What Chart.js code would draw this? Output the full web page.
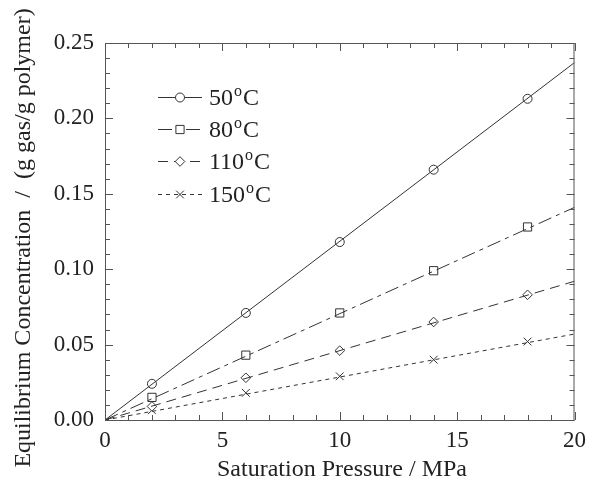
<!DOCTYPE html>
<html>
<head>
<meta charset="utf-8">
<script src="https://cdn.jsdelivr.net/npm/chart.js@4/dist/chart.umd.min.js"></script>
<style>
  html, body { margin: 0; padding: 0; background: #fff; }
  #wrap { width: 593px; height: 482px; }
</style>
</head>
<body>
<div id="wrap"><canvas id="chart" width="593" height="482"></canvas></div>
<script>
// ================================
// DATA
// ================================
const pressures = [2, 6, 10, 14, 18];
const conc50 = [0.024, 0.071, 0.118, 0.166, 0.213];
const conc80 = [0.015, 0.043, 0.071, 0.099, 0.128];
const conc110 = [0.009, 0.028, 0.046, 0.065, 0.083];
const conc150 = [0.0065, 0.018, 0.029, 0.040, 0.052];

// fitted lines, end points only
const fitPressures = [0, 20];
const fit50 = [0, 0.237];
const fit80 = [0, 0.141];
const fit110 = [0, 0.092];
const fit150 = [0, 0.057];

const seriesLabels = ['50', '80', '110', '150'];
const xTicks = [0, 5, 10, 15, 20];
const yTicks = [0, 0.05, 0.10, 0.15, 0.20, 0.25];

// ================================
// STYLE
// ================================
const INK = '#333';
const FONT = "'Liberation Serif', 'DejaVu Serif', serif";

const styles = [
  { dash: [], point: 'circle', radius: 4.5 },
  { dash: [14, 5, 4, 5], point: 'rect', radius: 5.8 },
  { dash: [10, 6], point: 'rectRot', radius: 4.8 },
  { dash: [4, 4], point: 'crossRot', radius: 5.5 }
];

const toXY = (xs, ys) => xs.map((x, i) => ({ x, y: ys[i] }));

const fits = [fit50, fit80, fit110, fit150];
const points = [conc50, conc80, conc110, conc150];

const datasets = [];
fits.forEach((f, i) => {
  datasets.push({
    data: toXY(fitPressures, f),
    showLine: true,
    borderColor: INK,
    borderWidth: 1,
    borderDash: styles[i].dash,
    pointRadius: 0
  });
});
points.forEach((p, i) => {
  datasets.push({
    data: toXY(pressures, p),
    showLine: false,
    pointStyle: styles[i].point,
    pointRadius: styles[i].radius,
    pointBorderWidth: 1,
    pointBorderColor: INK,
    pointBackgroundColor: '#fff'
  });
});

// ================================
// PLUGINS
// ================================
function drawMarker(ctx, style, r, x, y) {
  ctx.beginPath();
  const s = Math.SQRT1_2 * r;
  if (style === 'circle') {
    ctx.arc(x, y, r, 0, Math.PI * 2);
  } else if (style === 'rect') {
    ctx.rect(x - s, y - s, 2 * s, 2 * s);
  } else if (style === 'rectRot') {
    ctx.moveTo(x, y - r); ctx.lineTo(x + r, y); ctx.lineTo(x, y + r); ctx.lineTo(x - r, y); ctx.closePath();
  } else {
    ctx.moveTo(x - s, y - s); ctx.lineTo(x + s, y + s);
    ctx.moveTo(x + s, y - s); ctx.lineTo(x - s, y + s);
  }
  ctx.fillStyle = '#fff';
  if (style !== 'crossRot') ctx.fill();
  ctx.stroke();
}

const framePlugin = {
  id: 'frame',
  afterDraw(chart) {
    const { ctx, chartArea: a, scales: { x, y } } = chart;
    ctx.save();
    ctx.strokeStyle = '#555';
    ctx.lineWidth = 1;
    ctx.strokeRect(a.left + 0.5, a.top + 0.5, a.right - a.left - 1, a.bottom - a.top);

    // inward ticks on all sides
    ctx.beginPath();
    for (let v = 0; v <= 20; v++) {
      const px = Math.round(x.getPixelForValue(v)) + 0.5;
      const len = v % 5 === 0 ? 8 : 5;
      ctx.moveTo(px, a.bottom); ctx.lineTo(px, a.bottom - len);
      ctx.moveTo(px, a.top); ctx.lineTo(px, a.top + len);
    }
    for (let k = 0; k <= 25; k++) {
      const py = Math.round(y.getPixelForValue(k / 100)) + 0.5;
      const len = k % 5 === 0 ? 8 : 5;
      ctx.moveTo(a.left, py); ctx.lineTo(a.left + len, py);
      ctx.moveTo(a.right, py); ctx.lineTo(a.right - len, py);
    }
    ctx.stroke();

    // axis titles
    ctx.fillStyle = '#222';
    ctx.font = `24px ${FONT}`;
    ctx.textAlign = 'center';
    ctx.textBaseline = 'alphabetic';
    ctx.fillText('Saturation Pressure / MPa', 342, 476);
    ctx.save();
    ctx.translate(30, 238);
    ctx.rotate(-Math.PI / 2);
    ctx.fillText('Equilibrium Concentration  /  (g gas/g polymer)', 0, 0);
    ctx.restore();

    // legend
    const rows = [97, 129, 161, 194];
    rows.forEach((ry, i) => {
      const st = styles[i];
      ctx.save();
      ctx.strokeStyle = INK;
      ctx.setLineDash(st.dash);
      ctx.beginPath();
      ctx.moveTo(158, ry + 0.5); ctx.lineTo(202, ry + 0.5);
      ctx.stroke();
      ctx.setLineDash([]);
      drawMarker(ctx, st.point, st.radius, 180, ry + 0.5);
      ctx.restore();

      ctx.textAlign = 'left';
      ctx.fillStyle = '#222';
      ctx.font = `24px ${FONT}`;
      const base = ry + 8;
      let tx = 209;
      ctx.fillText(seriesLabels[i], tx, base);
      tx += ctx.measureText(seriesLabels[i]).width + 1;
      ctx.font = `16px ${FONT}`;
      ctx.fillText('o', tx, base - 9);
      tx += ctx.measureText('o').width + 1;
      ctx.font = `24px ${FONT}`;
      ctx.fillText('C', tx, base);
    });
    ctx.restore();
  }
};

// ================================
// CHART
// ================================
new Chart(document.getElementById('chart'), {
  type: 'scatter',
  data: { datasets },
  options: {
    responsive: false,
    animation: false,
    events: [],
    layout: { padding: { left: 0, top: 43, right: 15, bottom: 0 } },
    plugins: { legend: { display: false }, tooltip: { enabled: false } },
    scales: {
      x: {
        type: 'linear',
        min: 0, max: 20,
        afterFit: (s) => { s.height = 62; },
        afterBuildTicks: (s) => { s.ticks = xTicks.map(v => ({ value: v })); },
        grid: { display: false, drawTicks: false },
        border: { display: false },
        ticks: { padding: 7, color: '#222', font: { family: FONT, size: 23 }, maxRotation: 0, callback: v => String(v) }
      },
      y: {
        type: 'linear',
        min: 0, max: 0.25,
        afterFit: (s) => { s.width = 105; },
        afterBuildTicks: (s) => { s.ticks = yTicks.map(v => ({ value: v })); },
        grid: { display: false, drawTicks: false },
        border: { display: false },
        ticks: { padding: 11, color: '#222', font: { family: FONT, size: 23 }, callback: v => v.toFixed(2) }
      }
    }
  },
  plugins: [framePlugin]
});
</script>
</body>
</html>
